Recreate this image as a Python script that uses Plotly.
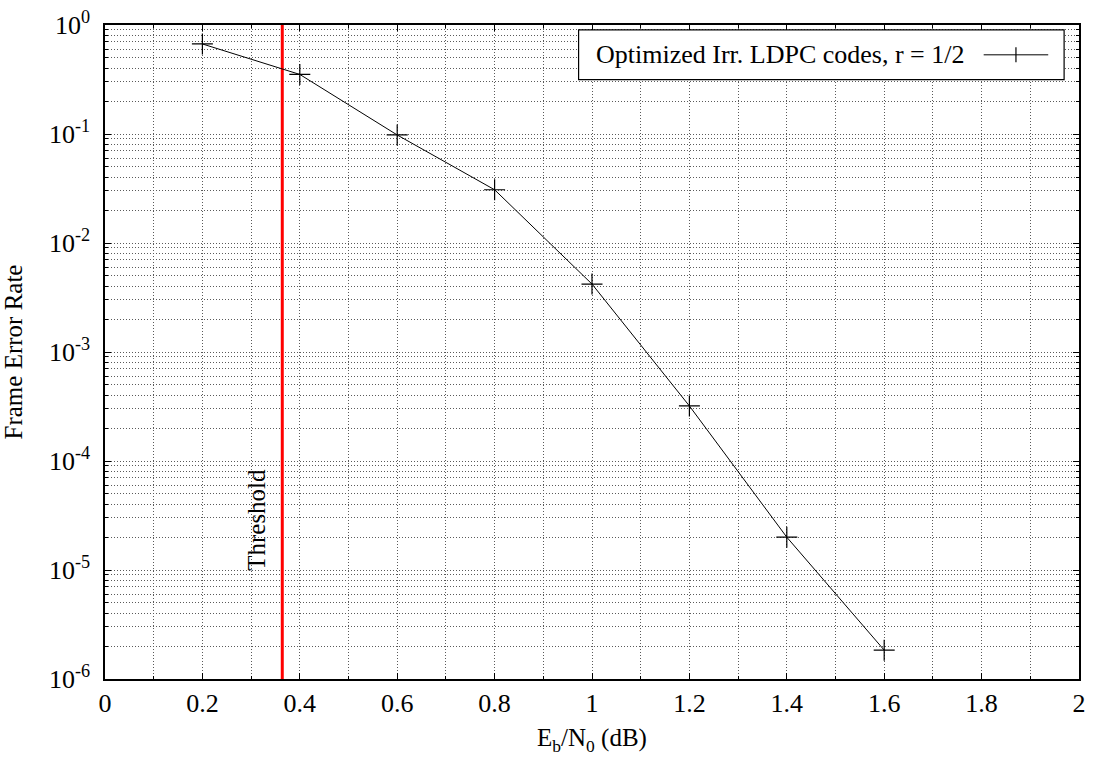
import plotly.graph_objects as go

# Simulated frame error rate of the optimized irregular LDPC code (rate 1/2)
ebn0_db = [0.2, 0.4, 0.6, 0.8, 1.0, 1.2, 1.4, 1.6]
fer = [0.67, 0.352, 0.098, 0.0308, 0.0042, 3.2e-4, 2.0e-5, 1.84e-6]

# Decoding threshold (dB)
threshold_db = 0.364

series_name = "Optimized Irr. LDPC codes, r = 1/2"
x_ticks = [0, 0.2, 0.4, 0.6, 0.8, 1, 1.2, 1.4, 1.6, 1.8, 2]
x_tick_text = ["0", "0.2", "0.4", "0.6", "0.8", "1", "1.2", "1.4", "1.6", "1.8", "2"]
y_exponents = [0, -1, -2, -3, -4, -5, -6]

FONT = "Liberation Serif, Times New Roman, serif"
FS_TICK = 26
FS_TITLE = 25
FS_KEY = 26
GRID = "#5a5a5a"

W, H = 1093, 758
L, R, T, B = 105, 7, 21, 79
plot_w = W - L - R
plot_h = H - T - B


def px_x(p):
    return (p - L) / plot_w


def px_y(p):
    return (H - B - p) / plot_h


fig = go.Figure()

fig.add_trace(go.Scatter(
    x=[threshold_db, threshold_db], y=[1e-6, 1],
    mode="lines", line=dict(color="#ff0000", width=3),
    showlegend=False, hoverinfo="skip",
))

fig.add_trace(go.Scatter(
    x=ebn0_db, y=fer, mode="lines+markers", name=series_name,
    line=dict(color="black", width=1),
    marker=dict(symbol="cross-thin", size=15, color="black",
                line=dict(color="black", width=1.2)),
    showlegend=False,
))

y_tickvals = [10.0 ** e for e in y_exponents]
y_ticktext = ["10<sup>%d</sup>" % e for e in y_exponents]
y_minor = [m * 10.0 ** e for e in range(-6, 0) for m in range(2, 10)]

fig.update_xaxes(
    range=[0, 2], tickvals=x_ticks, ticktext=x_tick_text,
    ticks="inside", ticklen=6, tickcolor="black",
    showline=True, linecolor="black", linewidth=1.5, mirror="ticks",
    showgrid=True, gridcolor=GRID, griddash="1px,2px", gridwidth=1,
    minor=dict(dtick=0.1, ticks="inside", ticklen=3, tickcolor="black",
               showgrid=True, gridcolor=GRID, griddash="1px,2px", gridwidth=1),
    zeroline=False,
    tickfont=dict(family=FONT, size=FS_TICK, color="black"),
    title=dict(text="E<sub>b</sub>/N<sub>0</sub> (dB)",
               font=dict(family=FONT, size=FS_TITLE, color="black"), standoff=12),
)

fig.update_yaxes(
    type="log", range=[-6, 0], tickvals=y_tickvals, ticktext=y_ticktext,
    ticks="inside", ticklen=6, tickcolor="black",
    showline=True, linecolor="black", linewidth=1.5, mirror="ticks",
    showgrid=True, gridcolor=GRID, griddash="1px,2px", gridwidth=1,
    minor=dict(tickvals=y_minor, ticks="inside", ticklen=3, tickcolor="black",
               showgrid=True, gridcolor=GRID, griddash="1px,2px", gridwidth=1),
    zeroline=False, ticklabelstandoff=8,
    tickfont=dict(family=FONT, size=FS_TICK, color="black"),
    title=dict(text="Frame Error Rate",
               font=dict(family=FONT, size=FS_TITLE, color="black"), standoff=20),
)

# Threshold label next to the red line
fig.add_annotation(
    x=0.312, y=-4.54, xref="x", yref="y", text="Threshold", textangle=-90,
    showarrow=False, font=dict(family=FONT, size=FS_TITLE, color="black"),
)

# Key box in the upper right corner: text followed by a line sample with a cross
fig.add_shape(type="rect", xref="paper", yref="paper",
              x0=px_x(582), x1=px_x(1071), y0=px_y(76), y1=px_y(26),
              line=dict(color="black", width=1.2), fillcolor="white", layer="above")
fig.add_annotation(x=px_x(973), y=px_y(51), xref="paper", yref="paper",
                   xanchor="right", yanchor="middle", text=series_name,
                   showarrow=False, font=dict(family=FONT, size=FS_KEY, color="black"))
fig.add_shape(type="line", xref="paper", yref="paper",
              x0=px_x(990), x1=px_x(1055), y0=px_y(51), y1=px_y(51),
              line=dict(color="black", width=1), layer="above")
fig.add_shape(type="line", xref="paper", yref="paper",
              x0=px_x(1022.5), x1=px_x(1022.5), y0=px_y(58.5), y1=px_y(43.5),
              line=dict(color="black", width=1.2), layer="above")

fig.update_layout(
    width=W, height=H,
    margin=dict(l=L, r=R, t=T, b=B, pad=0),
    plot_bgcolor="white", paper_bgcolor="white",
    font=dict(family=FONT, size=FS_TICK, color="black"),
    showlegend=False,
)

fig.write_html("out.html")
